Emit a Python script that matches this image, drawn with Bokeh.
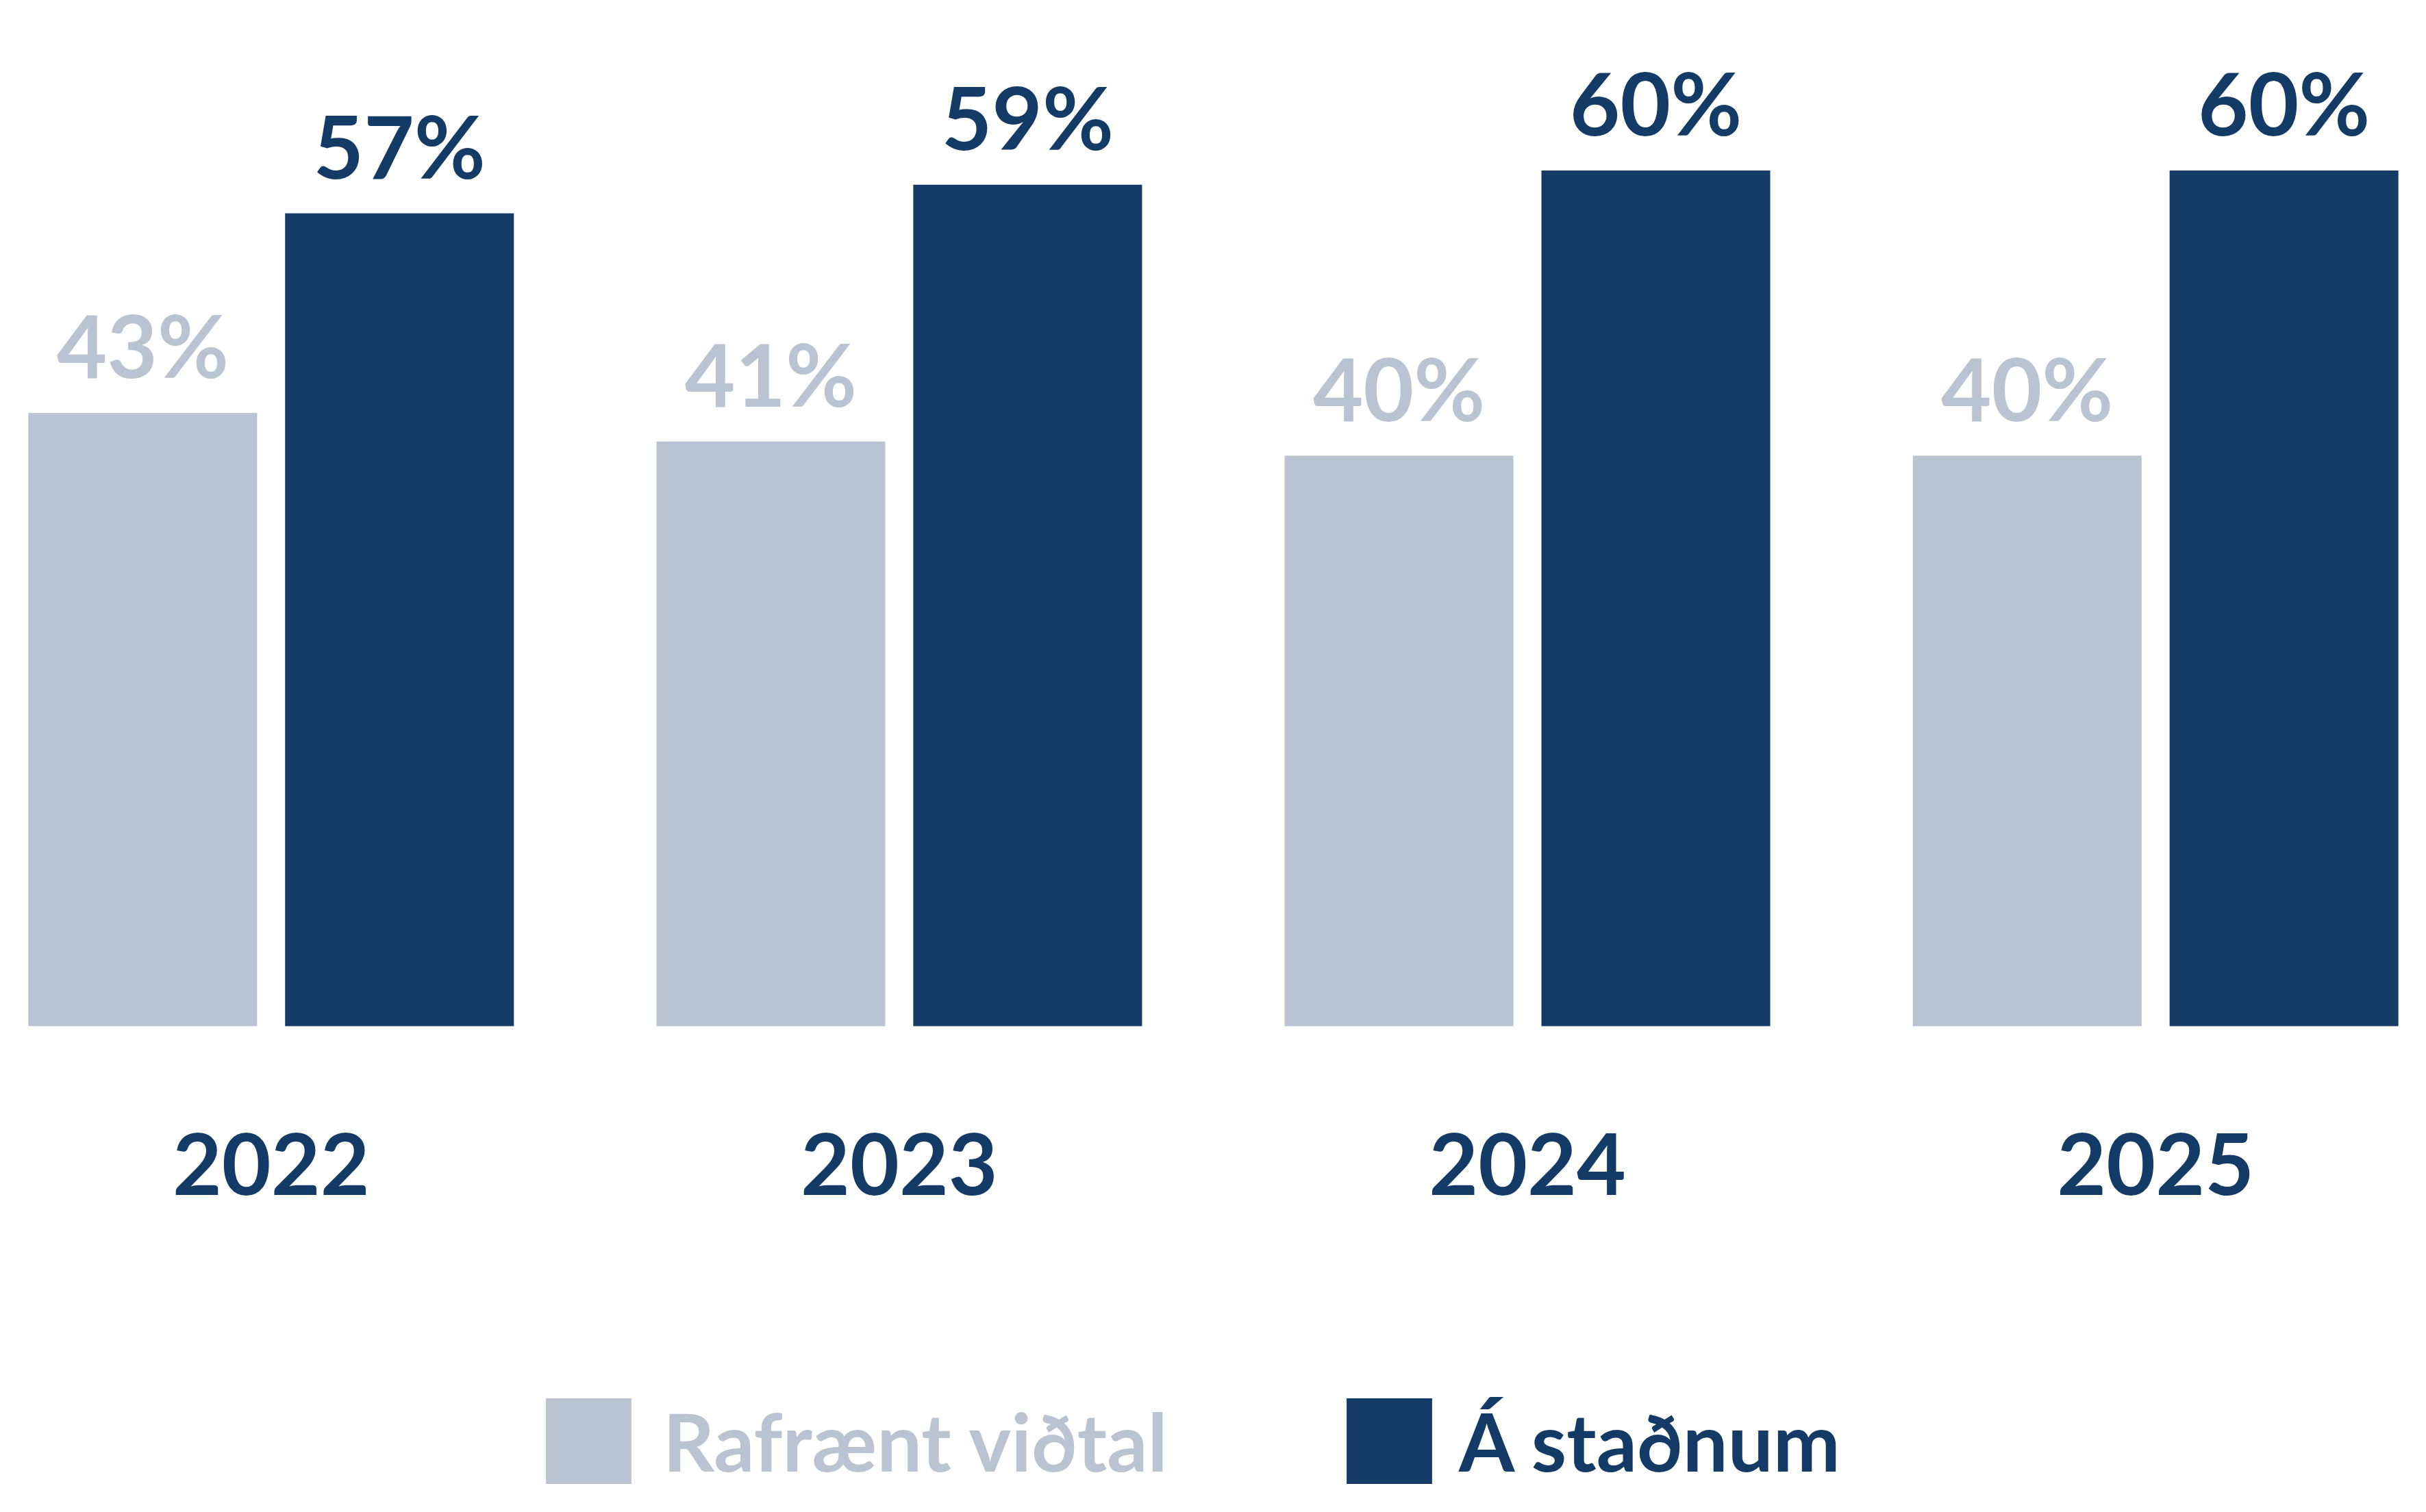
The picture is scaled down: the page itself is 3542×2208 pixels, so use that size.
from bokeh.plotting import figure
from bokeh.models import ColumnDataSource, FactorRange, Legend, LegendItem
from bokeh.transform import dodge
from bokeh.core.properties import value
from bokeh.embed import file_html
from bokeh.resources import INLINE

# ---- data ----
years = ["2022", "2023", "2024", "2025"]
rafraent = [43, 41, 40, 40]      # Rafrænt viðtal (%)
stadnum = [57, 59, 60, 60]       # Á staðnum (%)
series_names = ["Rafrænt viðtal", "Á staðnum"]

LIGHT = "#B8C4D2"
DARK = "#143A66"
FONT = "Lato"

H = 2208
BASE_PX = 1498           # baseline position from top, px
PX_PER_UNIT = 20.825     # px per percentage point
Y_END = BASE_PX / PX_PER_UNIT
Y_START = -(H - BASE_PX) / PX_PER_UNIT

VAL_FS = 127
YEAR_FS = 124
BL = 0.39                # empirical anchor->baseline shift (fraction of font size)

LBL_GAP = (50 + BL * VAL_FS) / PX_PER_UNIT
YEAR_Y = -(1747 - BL * YEAR_FS - BASE_PX) / PX_PER_UNIT

src = ColumnDataSource(dict(
    year=years,
    rafraent=rafraent,
    stadnum=stadnum,
    rafraent_lbl=[f"{v}%" for v in rafraent],
    stadnum_lbl=[f"{v}%" for v in stadnum],
    rafraent_ly=[v + LBL_GAP for v in rafraent],
    stadnum_ly=[v + LBL_GAP for v in stadnum],
    year_y=[YEAR_Y for _ in years],
))

p = figure(
    width=3542, height=H,
    x_range=FactorRange(*years, range_padding=-0.069, range_padding_units="absolute"),
    y_range=(Y_START, Y_END),
    output_backend="svg", toolbar_location=None,
    x_axis_location=None, y_axis_location=None,
    min_border_left=0, min_border_right=0, min_border_top=0, min_border_bottom=0,
)

OFF = 0.2044
W = 0.3642

r1 = p.vbar(x=dodge("year", -OFF, range=p.x_range), top="rafraent", bottom=0, width=W,
            source=src, fill_color=LIGHT, line_color=None)
r2 = p.vbar(x=dodge("year", OFF, range=p.x_range), top="stadnum", bottom=0, width=W,
            source=src, fill_color=DARK, line_color=None)

p.text(x=dodge("year", -OFF, range=p.x_range), y="rafraent_ly", text="rafraent_lbl",
       source=src, text_align="center", text_baseline="alphabetic",
       text_font=value(FONT), text_font_style="bold", text_font_size=f"{VAL_FS}px",
       text_color=LIGHT)
p.text(x=dodge("year", OFF, range=p.x_range), y="stadnum_ly", text="stadnum_lbl",
       source=src, text_align="center", text_baseline="alphabetic",
       text_font=value(FONT), text_font_style="bold", text_font_size=f"{VAL_FS}px",
       text_color=DARK)

# category (year) labels
p.text(x="year", y="year_y", text="year", source=src,
       text_align="center", text_baseline="alphabetic",
       text_font=value(FONT), text_font_style="bold", text_font_size=f"{YEAR_FS}px",
       text_color=DARK)

p.xgrid.visible = False
p.ygrid.visible = False
p.outline_line_color = None
p.background_fill_color = "white"
p.border_fill_color = "white"

GLYPH = 156  # legend draws the box glyph with a 10% inset -> ~125px square
common = dict(orientation="horizontal", glyph_width=GLYPH, glyph_height=GLYPH,
              label_height=GLYPH, padding=0, margin=0, spacing=0,
              border_line_color=None, background_fill_alpha=0,
              label_text_font=FONT, label_text_font_style="bold",
              label_text_font_size="117px")

leg1 = Legend(items=[LegendItem(label=series_names[0], renderers=[r1])],
              location=(781, 26), label_text_color=LIGHT, label_standoff=31, **common)
leg2 = Legend(items=[LegendItem(label=series_names[1], renderers=[r2])],
              location=(1950, 26), label_text_color=DARK, label_standoff=24, **common)
p.add_layout(leg1)
p.add_layout(leg2)

open("out.html", "w").write(file_html(p, INLINE))
